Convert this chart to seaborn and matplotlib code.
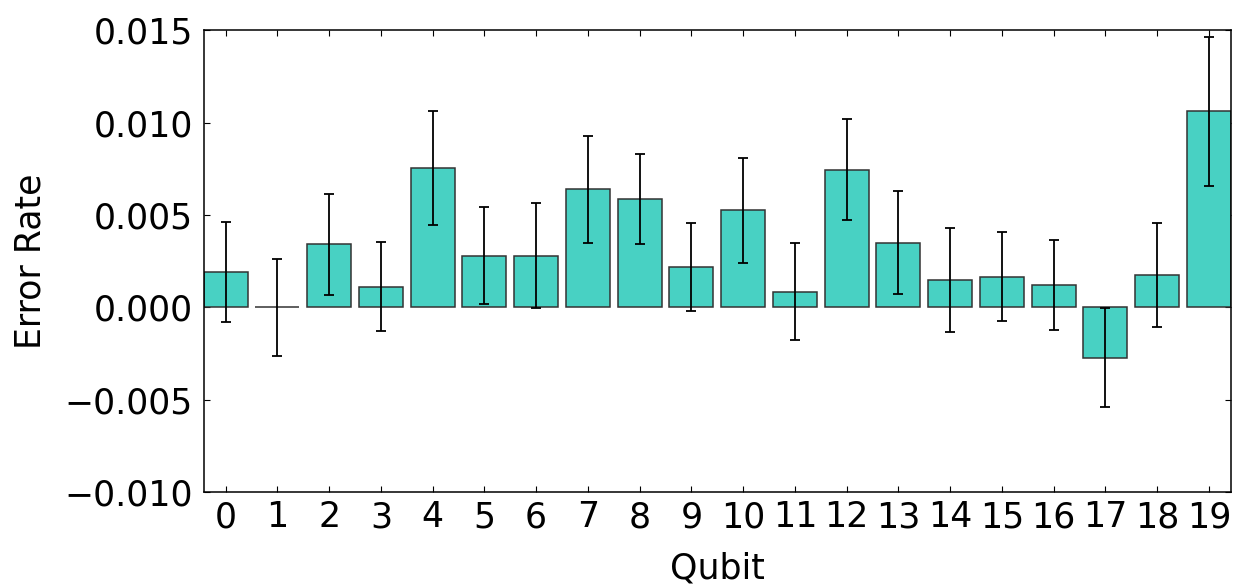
import matplotlib
matplotlib.use("Agg")
import matplotlib.pyplot as plt
import seaborn as sns
import pandas as pd

qubits = [str(i) for i in range(20)]
error_rate = [0.00191, 0.0, 0.00342, 0.00113, 0.00755, 0.0028, 0.0028, 0.00639,
              0.00586, 0.0022, 0.00525, 0.00086, 0.00745, 0.0035, 0.00149, 0.00166,
              0.00122, -0.00272, 0.00175, 0.01063]
error_bar = [0.00272, 0.00264, 0.00273, 0.00242, 0.00308, 0.00264, 0.00284, 0.0029,
             0.00245, 0.00238, 0.00286, 0.00263, 0.00273, 0.0028, 0.0028, 0.00242,
             0.00242, 0.00268, 0.00282, 0.00403]
y_ticks = [-0.010, -0.005, 0.000, 0.005, 0.010, 0.015]

sns.set_style("white")
plt.rcParams.update({
    "font.family": ["DejaVu Sans"],
    "font.size": 25,
    "text.color": "black",
    "axes.labelcolor": "black",
    "xtick.color": "black",
    "ytick.color": "black",
    "xtick.direction": "in",
    "ytick.direction": "in",
    "xtick.top": True,
    "ytick.right": True,
    "xtick.bottom": True,
    "ytick.left": True,
    "xtick.major.size": 4,
    "ytick.major.size": 4,
    "xtick.major.width": 0.8,
    "ytick.major.width": 0.8,
    "xtick.major.pad": 6,
    "ytick.major.pad": 8,
    "axes.linewidth": 1.1,
    "axes.edgecolor": "black",
})

df = pd.DataFrame({"Qubit": qubits, "Error Rate": error_rate})

fig = plt.figure(figsize=(12.39, 5.86), dpi=100)
ax = fig.add_axes([0.1646, 0.1604, 0.8287, 0.7876])

sns.barplot(data=df, x="Qubit", y="Error Rate", order=qubits, color="#48D1C3",
            saturation=1, width=0.85, errorbar=None, edgecolor="#333333",
            linewidth=1.1, ax=ax)
ax.errorbar(range(len(qubits)), error_rate, yerr=error_bar, fmt="none",
            ecolor="black", elinewidth=1.3, capsize=3.5, capthick=1.3, zorder=5)

ax.set_xlim(-0.42, 19.42)
ax.set_ylim(-0.010, 0.015)
ax.set_yticks(y_ticks)
ax.set_xlabel("Qubit", fontsize=25, labelpad=12, color="black")
ax.set_ylabel("Error Rate", fontsize=25, labelpad=12, color="black")
ax.tick_params(labelsize=25, colors="black")
for s in ax.spines.values():
    s.set_visible(True)
    s.set_color("black")

fig.savefig("out.png", dpi=100)
